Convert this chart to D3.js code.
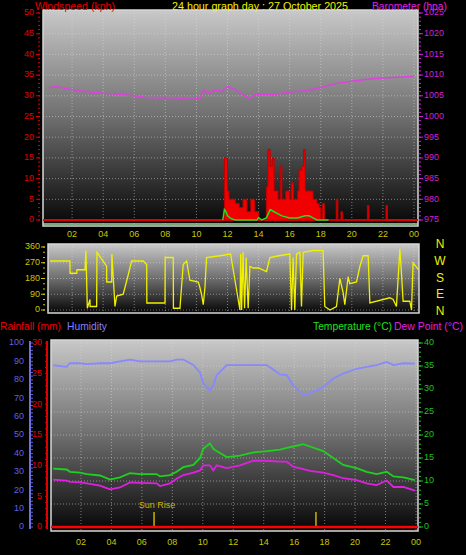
<!DOCTYPE html>
<html><head><meta charset="utf-8">
<script src="https://cdn.jsdelivr.net/npm/d3@7"></script>
<style>body{margin:0;background:#000}svg{display:block;font-family:"Liberation Sans",Arial,sans-serif}</style>
</head><body><svg width="466" height="555"></svg>
<script>
var hourTicks = ["02","04","06","08","10","12","14","16","18","20","22","00"];

var baroHours = [0.5,1,2,3,4,5,6,7,8,9,9.8,10.2,10.5,10.8,11.2,11.6,12,12.5,13,13.4,13.8,14.5,15,16,17,18,19,20,21,22,23,24];
var baroVals  = [1007,1007.2,1006.5,1006,1005.6,1005.4,1005,1004.5,1004.6,1004.4,1004.6,1004.2,1006.5,1005.6,1006.4,1006,1007.2,1006.5,1005.3,1004.4,1005.3,1005.4,1005.3,1005.9,1006.2,1007,1008,1008.5,1009,1009.3,1009.5,1009.7];

var windHours = [11.75,11.8,11.9,12.0,12.1,12.25,12.5,12.75,13.0,13.25,13.5,13.75,14.0,14.25,14.5,14.6,14.75,14.9,15.0,15.25,15.4,15.5,15.75,16.0,16.1,16.25,16.5,16.6,16.75,16.9,17.0,17.25,17.5,17.75,17.9,18.0,18.1,18.25,18.9,19.0,19.1,19.3,19.4,20.9,21.0,21.1,22.1,22.2,22.3];
var windGust  = [0,15,15,7,5,5,4,3,5,2,5,2,0,0,8,17,13,15,7,5,13,5,7,5,9,5,7,12,13,17,7,7,5,4,3,0,4,0,0,5,0,2,0,0,3.5,0,0,3.5,0];
var avgHours = [11.7,11.8,11.9,12.0,12.25,12.5,13.9,14.0,14.2,14.5,14.75,15.0,15.25,15.5,16.0,16.5,17.0,17.25,17.5,17.75,18.5];
var avgVals  = [0,2.5,2,1,0.3,0,0,0.6,0,0.5,2.5,2,1.5,1,0.5,0.5,1,1,0.5,0,0];

var dirHours = [0.58,1.86,1.87,2.30,2.31,2.83,2.89,2.98,3.15,3.16,3.58,3.6,4.22,4.23,4.55,4.56,4.76,4.87,5.29,5.61,5.83,6.58,6.80,6.81,7.98,7.99,8.51,8.52,8.94,9.15,9.37,9.58,10.12,10.22,10.33,10.44,10.55,10.65,11.5,12.2,12.80,12.85,12.91,13.0,13.1,13.2,13.33,13.44,13.65,14.0,14.51,14.73,15.3,16.01,16.12,16.22,16.33,16.44,16.66,16.76,16.87,17.5,18.15,18.26,18.59,19.01,19.23,19.44,19.55,19.76,19.87,20.30,20.52,20.73,21.05,21.16,22.44,22.66,22.87,23.09,23.20,23.30,23.73,23.84,23.94,24.3];
var dirVals  = [280,280,210,210,230,230,340,10,60,20,20,330,250,160,160,320,20,80,90,200,280,280,260,40,40,300,300,10,10,260,280,170,160,130,90,30,130,300,310,320,0,320,0,330,10,300,10,250,240,240,220,300,310,320,0,300,0,320,330,20,330,340,340,20,0,20,180,100,30,190,150,160,250,310,310,40,70,60,20,350,200,50,50,0,270,230];

var thHours = [0.18,1.06,1.28,1.94,2.38,3.25,3.91,4.56,5.22,5.88,6.97,7.19,7.85,8.28,8.72,9.38,9.82,10.03,10.47,10.69,10.91,11.57,12.44,13.32,14.20,15.07,15.51,15.94,16.60,17.04,17.91,18.57,19.22,20.10,20.76,21.42,22.08,22.52,23.18,23.93];
var tempVals = [12.7,12.5,12,11.8,11.5,11.2,10.3,10.8,11.7,11.5,11.5,11,11.3,12,13,13.5,15,17,18.2,17,16.5,15.2,15.5,16.2,16.5,16.8,17.2,17.5,18,17.5,16.5,15,13.5,12.8,12,11.5,12,11,10.8,10.2];
var dewVals  = [10.3,10.1,9.8,9.7,9.5,9,8.2,8.6,9.7,9.6,9.5,8.9,9.5,10.5,11.3,11.8,12.3,13.4,13.4,12.3,13.4,12.8,13.4,14.4,14.4,14.2,14.2,13.1,12.6,12.2,11.8,11.3,10.6,10.2,9.5,9.1,10.1,8.7,8.7,7.9];
var humVals  = [87.9,87,89,89,88.5,89,89,90,91,90,90,90,90,91,91,88,84,78,74,77,82.5,88,88,88,88,83,82.5,77,71.7,72.6,76,80.7,83.4,86,87,88,89.7,88,89,88.8];

var sunHours = [6.8, 17.43];
var sunLabels = ["Sun Rise", ""];

var svg = d3.select("svg");
var defs = svg.append("defs");
var grad = defs.append("linearGradient").attr("id","bg").attr("x1",0).attr("x2",0).attr("y1",0).attr("y2",1);
grad.append("stop").attr("offset","0%").attr("stop-color","#c8c8c8");
grad.append("stop").attr("offset","50%").attr("stop-color","#6e6e6e");
grad.append("stop").attr("offset","100%").attr("stop-color","#050505");

function panel(x0, x1, y0, y1, id) {
  defs.append("clipPath").attr("id", id).append("rect").attr("x", x0).attr("y", y0).attr("width", x1 - x0).attr("height", y1 - y0);
  svg.append("rect").attr("x", x0).attr("y", y0).attr("width", x1 - x0).attr("height", y1 - y0)
    .attr("fill", "url(#bg)").attr("stroke", "#d8d8d8").attr("stroke-width", 1.5);
  return svg.append("g").attr("clip-path", "url(#" + id + ")");
}
function grid(g, xs, ys, x0, x1, y0, y1) {
  xs.forEach(function (x) { g.append("line").attr("x1", x).attr("x2", x).attr("y1", y0).attr("y2", y1).attr("stroke", "#ddd").attr("stroke-opacity", 0.5).attr("stroke-dasharray", "1,2"); });
  ys.forEach(function (y) { g.append("line").attr("x1", x0).attr("x2", x1).attr("y1", y).attr("y2", y).attr("stroke", "#ddd").attr("stroke-opacity", 0.5).attr("stroke-dasharray", "1,2"); });
}
function txt(x, y, s, col, anchor, size, len) {
  var t = svg.append("text").attr("x", x).attr("y", y).attr("fill", col).attr("text-anchor", anchor || "start")
    .attr("font-size", size || 9).attr("dominant-baseline", "middle").text(s);
  if (len) t.attr("textLength", len).attr("lengthAdjust", "spacingAndGlyphs");
  return t;
}
function yAxis(scale, x, col, side, values, minor, labelX) {
  var g = svg.append("g");
  minor.forEach(function (v) { g.append("line").attr("x1", x).attr("x2", x + (side < 0 ? -2 : 2)).attr("y1", scale(v)).attr("y2", scale(v)).attr("stroke", col); });
  values.forEach(function (v) {
    g.append("line").attr("x1", x).attr("x2", x + (side < 0 ? -4 : 4)).attr("y1", scale(v)).attr("y2", scale(v)).attr("stroke", col);
    txt(labelX, scale(v), v, col, side < 0 ? "end" : "start", 9);
  });
}

// ---- panel 1: wind + barometer
var x1 = d3.scaleLinear().domain([0, 24]).range([41, 414]);
var yWind = d3.scaleLinear().domain([0, 50]).range([220, 13]);
var yBaro = d3.scaleLinear().domain([975, 1025]).range([220, 13]);
var p1 = panel(43, 418, 10, 226, "c1");
grid(p1, d3.range(2, 25, 2).map(x1), d3.range(0, 51, 5).map(yWind), 43, 418, 10, 226);
p1.append("line").attr("x1", 43).attr("x2", 418).attr("y1", yWind(0)).attr("y2", yWind(0)).attr("stroke", "#e00000").attr("stroke-width", 2);
p1.append("path").datum(windHours.map(function (h, i) { return [h, windGust[i]]; }))
  .attr("d", d3.area().x(function (d) { return x1(d[0]); }).y0(yWind(0)).y1(function (d) { return yWind(d[1]); }).curve(d3.curveStepAfter))
  .attr("fill", "#f00000").attr("stroke", "#c00000").attr("stroke-width", 1);
p1.append("path").datum(avgHours.map(function (h, i) { return [h, avgVals[i]]; }))
  .attr("d", d3.line().x(function (d) { return x1(d[0]); }).y(function (d) { return yWind(d[1]); }))
  .attr("fill", "none").attr("stroke", "#20e020").attr("stroke-width", 1.5);
p1.append("path").datum(baroHours.map(function (h, i) { return [h, baroVals[i]]; }))
  .attr("d", d3.line().x(function (d) { return x1(d[0]); }).y(function (d) { return yBaro(d[1]); }))
  .attr("fill", "none").attr("stroke", "#e040e0").attr("stroke-width", 1.5);
p1.append("line").attr("x1", 43).attr("x2", 418).attr("y1", 224).attr("y2", 224).attr("stroke", "#a0e0a0").attr("stroke-width", 1.5);
yAxis(yWind, 40, "#e00000", -1, d3.range(0, 51, 5), d3.range(0, 51, 1), 34);
yAxis(yBaro, 419, "#d020d0", 1, d3.range(975, 1026, 5), d3.range(975, 1026, 1), 424);
hourTicks.forEach(function (t, i) { txt(x1(2 + 2 * i), 235, t, "#c8c800", "middle", 9); });
txt(35, 7, "Windspeed (kph)", "#e00000", "start", 11, 80);
txt(260, 7, "24 hour graph day : 27 October 2025", "#f0f000", "middle", 11, 176);
txt(372, 7, "Barometer (hpa)", "#e020e0", "start", 11, 75);

// ---- panel 2: wind direction
var yDir = d3.scaleLinear().domain([0, 360]).range([310, 247]);
var p2 = panel(48, 419, 244, 313, "c2");
grid(p2, d3.range(2, 25, 2).map(x1), d3.range(0, 361, 90).map(yDir), 48, 419, 244, 313);
p2.append("path").datum(dirHours.map(function (h, i) { return [h, dirVals[i]]; }))
  .attr("d", d3.line().x(function (d) { return x1(d[0]); }).y(function (d) { return yDir(d[1]); }))
  .attr("fill", "none").attr("stroke", "#f0f000").attr("stroke-width", 1.3);
yAxis(yDir, 45, "#c8c800", -1, [0, 90, 180, 270, 360], d3.range(0, 361, 30), 40);
["N", "W", "S", "E", "N"].forEach(function (c, i) { txt(440, 245 + i * 16.7, c, "#f0f000", "middle", 12); });

txt(0, 327, "Rainfall (mm)", "#f00000", "start", 11, 61);
txt(67, 327, "Humidity", "#8080ff", "start", 11, 40);
txt(313, 327, "Temperature (°C)", "#20e020", "start", 11, 79);
txt(394, 327, "Dew Point (°C)", "#e020e0", "start", 11, 69);

// ---- panel 3: temp / dew / humidity / rain
var x3 = d3.scaleLinear().domain([0, 24]).range([50.5, 416]);
var yTemp = d3.scaleLinear().domain([0, 40]).range([527, 343]);
var yHum = d3.scaleLinear().domain([0, 100]).range([527, 343]);
var yRain = d3.scaleLinear().domain([0, 30]).range([527, 343]);
var p3 = panel(51, 418, 340, 531, "c3");
grid(p3, d3.range(2, 25, 2).map(x3), d3.range(0, 41, 5).map(yTemp), 51, 418, 340, 531);
function series(vals, scale, col) {
  p3.append("path").datum(thHours.map(function (h, i) { return [h, vals[i]]; }))
    .attr("d", d3.line().x(function (d) { return x3(d[0]); }).y(function (d) { return scale(d[1]); }))
    .attr("fill", "none").attr("stroke", col).attr("stroke-width", 1.8);
}
series(humVals, yHum, "#8888ff");
series(tempVals, yTemp, "#20d020");
series(dewVals, yTemp, "#e020e0");
sunHours.forEach(function (h, i) {
  p3.append("line").attr("x1", x3(h)).attr("x2", x3(h)).attr("y1", 512).attr("y2", 527).attr("stroke", "#c8b400").attr("stroke-width", 1.5);
  if (sunLabels[i]) p3.append("text").attr("x", x3(h) + 3).attr("y", 508).attr("fill", "#c8b400").attr("font-size", 9).attr("text-anchor", "middle").text(sunLabels[i]);
});
p3.append("line").attr("x1", 51).attr("x2", 418).attr("y1", yRain(0)).attr("y2", yRain(0)).attr("stroke", "#ff0000").attr("stroke-width", 2.5);
svg.append("line").attr("x1", 30).attr("x2", 30).attr("y1", 341).attr("y2", 529).attr("stroke", "#7070e0").attr("stroke-width", 2);
svg.append("line").attr("x1", 47).attr("x2", 47).attr("y1", 341).attr("y2", 529).attr("stroke", "#e00000").attr("stroke-width", 2);
yAxis(yHum, 31, "#6060e0", 1, [], d3.range(0, 101, 2), 0);
d3.range(0, 101, 10).forEach(function (v) { txt(24, yHum(v), v, "#6060e0", "end", 9); });
yAxis(yRain, 47, "#e00000", -1, [], d3.range(0, 31, 1), 0);
d3.range(0, 31, 5).forEach(function (v) { txt(42, yRain(v), v, "#e00000", "end", 9); });
yAxis(yTemp, 419, "#20c020", 1, d3.range(0, 41, 5), d3.range(0, 41, 1), 424);
hourTicks.forEach(function (t, i) { txt(x3(2 + 2 * i), 543, t, "#c8c800", "middle", 9); });
</script></body></html>
